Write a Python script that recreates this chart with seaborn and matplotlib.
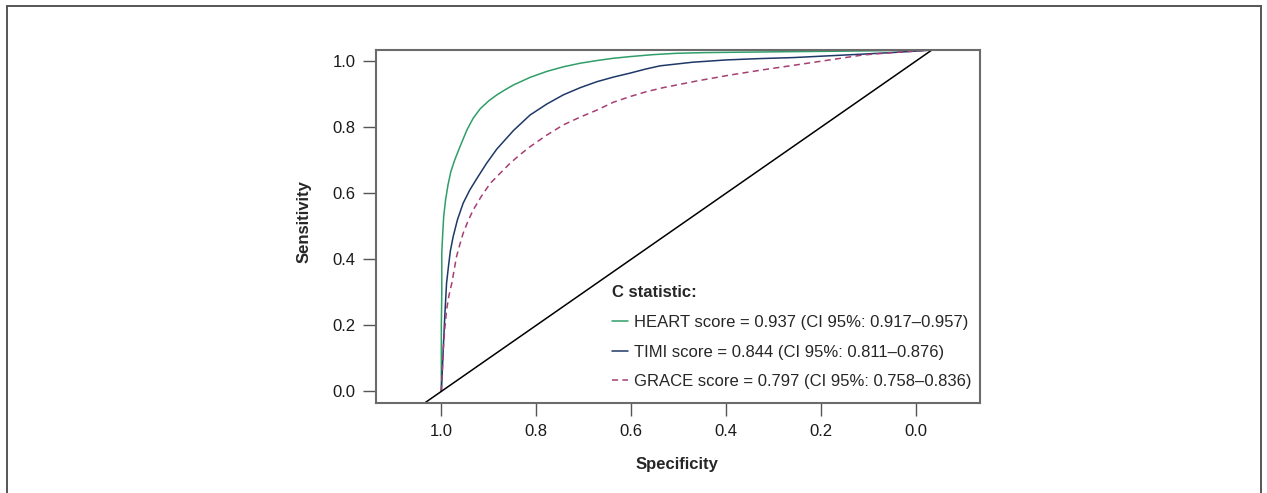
import numpy as np
import pandas as pd
import matplotlib.pyplot as plt
import seaborn as sns
from matplotlib import font_manager
from matplotlib.patches import Rectangle

# ROC curves: specificity (x, reversed axis) and sensitivity
heart_spec = [1.000, 1.000, 1.000, 0.999, 0.999, 0.997, 0.995, 0.991, 0.986, 0.980,
              0.972, 0.961, 0.946, 0.933, 0.918, 0.900, 0.883, 0.865, 0.848, 0.813,
              0.778, 0.743, 0.707, 0.672, 0.637, 0.602, 0.553, 0.504, 0.447, 0.390,
              0.259, 0.120, -0.037]
heart_sens = [0.000, 0.100, 0.200, 0.300, 0.420, 0.480, 0.530, 0.580, 0.625, 0.665,
              0.700, 0.740, 0.792, 0.827, 0.856, 0.880, 0.898, 0.914, 0.928, 0.951,
              0.969, 0.983, 0.994, 1.002, 1.009, 1.014, 1.020, 1.024, 1.026, 1.027,
              1.029, 1.031, 1.034]

timi_spec = [1.000, 0.998, 0.996, 0.993, 0.989, 0.985, 0.981, 0.975, 0.966, 0.954,
             0.940, 0.925, 0.905, 0.883, 0.848, 0.813, 0.778, 0.743, 0.707, 0.672,
             0.637, 0.602, 0.570, 0.539, 0.470, 0.398, 0.328, 0.258, 0.188, 0.118,
             0.040, -0.037]
timi_sens = [0.000, 0.060, 0.125, 0.220, 0.327, 0.378, 0.425, 0.469, 0.520, 0.570,
             0.610, 0.645, 0.690, 0.734, 0.790, 0.837, 0.870, 0.898, 0.920, 0.938,
             0.952, 0.964, 0.976, 0.986, 0.997, 1.004, 1.008, 1.011, 1.016, 1.021,
             1.027, 1.034]

grace_spec = [1.000, 0.998, 0.996, 0.993, 0.989, 0.984, 0.978, 0.968, 0.961, 0.954,
              0.944, 0.933, 0.916, 0.897, 0.873, 0.855, 0.835, 0.813, 0.778, 0.743,
              0.707, 0.672, 0.637, 0.602, 0.567, 0.532, 0.462, 0.392, 0.322, 0.251,
              0.181, 0.111, 0.040, -0.037]
grace_sens = [0.000, 0.060, 0.125, 0.185, 0.246, 0.290, 0.327, 0.408, 0.445, 0.479,
              0.515, 0.549, 0.590, 0.630, 0.665, 0.691, 0.716, 0.741, 0.776, 0.807,
              0.831, 0.852, 0.876, 0.893, 0.908, 0.920, 0.940, 0.958, 0.974, 0.989,
              1.004, 1.019, 1.027, 1.034]

labels = ["HEART score = 0.937 (CI 95%: 0.917–0.957)",
          "TIMI score = 0.844 (CI 95%: 0.811–0.876)",
          "GRACE score = 0.797 (CI 95%: 0.758–0.836)"]
colors = ["#2f9e69", "#1e3868", "#a53f73"]
x_ticks = [1.0, 0.8, 0.6, 0.4, 0.2, 0.0]
y_ticks = [0.0, 0.2, 0.4, 0.6, 0.8, 1.0]

sns.set_style("white")
names = {f.name for f in font_manager.fontManager.ttflist}
if "Liberation Sans Narrow" in names:
    family = "Liberation Sans Narrow"
    fs_tick, fs_leg, fs_lab = 14, 14.5, 14
else:
    family = "Liberation Sans"
    fs_tick, fs_leg, fs_lab = 12, 12, 12
plt.rcParams["font.family"] = [family, "DejaVu Sans"]

df = pd.concat([pd.DataFrame({"spec": s, "sens": v, "score": lab})
                for s, v, lab in zip([heart_spec, timi_spec, grace_spec],
                                     [heart_sens, timi_sens, grace_sens], labels)],
               ignore_index=True)

fig = plt.figure(figsize=(12.67, 4.93), dpi=100)
ax = fig.add_axes([0.2968, 0.182, 0.4767, 0.7166])

sns.lineplot(data=df, x="spec", y="sens", hue="score", style="score",
             palette=dict(zip(labels, colors)),
             dashes=dict(zip(labels, ["", "", (4, 2.8)])),
             sort=False, estimator=None, linewidth=1.1, ax=ax)
ax.axline((1, 0), (0, 1), color="black", lw=1.1)

ax.set_xlim(1.1376, -0.1355)
ax.set_ylim(-0.036, 1.034)
ax.set_xticks(x_ticks)
ax.set_yticks(y_ticks)
ax.set_xticklabels([f"{t:.1f}" for t in x_ticks])
ax.set_yticklabels([f"{t:.1f}" for t in y_ticks])
ax.tick_params(direction="out", length=9.4, width=1.0, color="#555555",
               labelsize=fs_tick, labelcolor="#1a1a1a", pad=5.5,
               bottom=True, left=True)
for s in ax.spines.values():
    s.set_color("#6b6b6b")
    s.set_linewidth(1.5)

ax.set_xlabel("Specificity", fontsize=fs_lab, fontweight="bold")
ax.set_ylabel("Sensitivity", fontsize=fs_lab, fontweight="bold")
ax.xaxis.set_label_coords(0.499, -0.152)
ax.yaxis.set_label_coords(-0.106, 0.514)

handles, labs = ax.get_legend_handles_labels()
ax.legend(handles, labs, title="C statistic:",
          title_fontproperties={"weight": "bold", "size": fs_leg},
          alignment="left", frameon=False, loc="upper left",
          bbox_to_anchor=(0.3902, 0.334), borderpad=0, borderaxespad=0,
          handlelength=1.0, handletextpad=0.35, labelspacing=0.88,
          fontsize=fs_leg)

# outer frame around the figure (bottom edge runs off the image)
fig.add_artist(Rectangle((6.5 / 1267, -0.1), (1261 - 6.5) / 1267, 1 - 5.5 / 493 + 0.1,
                         transform=fig.transFigure, fill=False,
                         edgecolor="#555555", linewidth=1.4))

fig.savefig("out.png", dpi=100)
